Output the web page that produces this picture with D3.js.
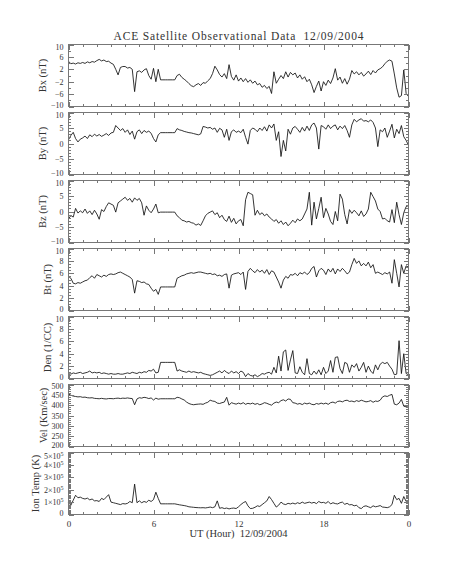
<!DOCTYPE html>
<html>
<head>
<meta charset="utf-8">
<script src="https://cdn.jsdelivr.net/npm/d3@7"></script>
<style>
body{margin:0;background:#fff;}
svg text{font-family:"Liberation Serif","DejaVu Serif",serif;fill:#333;white-space:pre;}
</style>
</head>
<body>
<svg id="chart" width="453" height="566"></svg>
<script>
// ---- data: 10-minute samples, 00:00 -> 24:00 UT ----
var title = "ACE Satellite Observational Data  12/09/2004";
var xTitle = "UT (Hour)  12/09/2004";
var stepHours = 1/6;
var hourTicks = [0, 6, 12, 18, 24];
var hourLabels = ["0", "6", "12", "18", "0"];

var bx = [
  4.6,3.8,4.0,3.7,4.1,3.9,  4.2,3.9,4.4,4.1,4.5,4.3,  4.8,5.2,4.7,5.0,4.5,4.6,
  4.0,3.6,2.0,0.2,2.6,2.9,  2.9,2.4,2.6,2.0,-5.2,1.2,  1.5,1.0,1.8,2.2,0.0,-1.2,
  2.3,-2.0,2.0,-1.4,-1.4,-1.4,  -1.4,-1.4,-1.4,-1.4,0.0,0.4,  -0.6,-1.2,-1.8,-2.6,-3.3,-3.6,
  -3.0,-2.6,-3.2,-2.3,-2.5,-1.7,  -1.0,0.6,3.0,1.8,0.3,-0.5,  0.6,-1.0,3.5,-0.3,-1.5,0.2,
  -1.8,-0.8,-2.0,-1.0,-2.2,-1.4,  -2.5,-1.8,-3.0,-2.6,-3.8,-3.2,  -4.2,-3.5,-5.8,1.2,-2.5,-1.2,
  0.0,-1.0,1.2,-0.5,1.0,0.2,  0.8,-0.8,0.2,-1.2,-0.4,-2.0,  -1.2,-3.0,-5.5,-3.5,-1.8,-5.0,
  -2.0,-3.2,-1.5,-2.6,-0.8,2.2,  -1.5,-0.5,-2.5,-1.0,-2.8,-1.2,  1.6,0.5,1.2,0.2,1.0,-0.2,
  0.5,1.4,0.3,1.6,0.8,1.8,  2.2,2.8,3.8,4.6,5.0,4.6,  0.5,-4.0,-7.0,-6.5,1.8,-5.8,
  -6.8];

var by = [
  1.2,2.6,3.6,1.6,0.5,1.4,  1.8,2.4,1.6,2.8,2.2,3.0,  2.4,2.9,2.3,2.7,3.2,2.6,
  3.4,3.6,5.8,5.0,4.2,4.8,  3.6,4.4,2.9,4.0,1.4,3.8,  4.4,3.2,4.2,3.6,4.0,3.3,
  1.6,0.5,2.8,3.5,3.5,3.5,  3.5,3.5,3.5,3.5,4.8,4.4,  4.2,3.9,3.7,3.5,3.4,3.2,
  3.0,2.8,3.1,5.5,5.3,5.0,  5.2,4.6,5.0,3.6,4.9,4.4,  2.0,4.6,1.0,3.8,4.4,3.6,
  4.0,3.5,4.6,2.0,-0.2,4.2,  5.0,4.6,3.8,5.0,4.2,5.4,  4.0,6.0,5.0,6.3,1.0,3.8,
  -4.2,1.0,-2.4,4.6,3.0,5.0,  5.5,4.6,3.6,5.2,4.0,5.6,  4.2,6.0,6.6,5.0,-1.8,5.8,
  5.4,4.6,6.0,4.8,5.6,6.0,  4.4,5.6,4.8,5.8,4.2,2.0,  6.0,7.8,7.0,7.6,8.0,7.2,
  7.4,7.0,7.6,6.8,5.0,-1.0,  4.4,3.8,5.0,2.0,4.0,6.2,  1.8,4.6,3.2,5.8,2.2,1.0,
  -0.6];

var bz = [
  -2.4,-1.3,-1.8,1.0,-0.5,0.2,  -0.4,0.8,-0.6,0.2,-1.0,0.4,  -0.8,-2.5,0.6,0.0,1.6,2.8,
  2.4,2.0,-0.2,2.8,3.4,4.0,  4.6,3.6,4.2,3.0,4.4,3.6,  4.2,2.8,-1.2,1.8,0.4,-0.4,
  0.8,2.4,-0.4,-0.2,-0.2,-0.2,  -0.2,-0.2,-0.2,-0.2,-1.4,-2.0,  -2.8,-3.0,-3.4,-3.2,-3.6,-3.8,
  -4.4,-4.0,-4.5,-3.0,-1.4,-0.6,  -0.2,0.2,-1.0,-0.4,-2.0,-1.2,  -2.6,-3.2,-1.5,-3.5,-2.2,-4.0,
  -3.0,-2.6,-4.6,3.8,6.2,5.8,  5.4,-1.2,0.4,-1.0,-0.4,-1.4,  -0.8,-1.8,-2.4,-3.2,-2.6,-3.8,
  -3.0,-4.2,-3.4,-4.6,-3.8,-2.8,  -3.6,-2.4,-3.0,-2.4,-0.8,0.8,  6.2,-4.4,3.0,-2.4,1.0,4.6,
  -2.0,1.0,-0.8,-3.2,-4.2,0.0,  -3.0,5.6,4.0,-1.0,-4.0,0.6,  -0.6,0.4,-0.4,-1.4,0.2,-1.6,
  -0.8,0.8,6.2,4.8,3.4,0.8,  0.0,-2.4,-2.2,-3.0,-3.4,0.6,  -3.6,3.0,-1.0,-4.2,-0.4,1.6,
  1.9];

var bt = [
  5.5,5.2,4.4,4.3,4.5,4.4,  4.6,4.8,4.9,5.3,5.6,5.2,  5.8,5.6,5.4,5.7,5.5,5.8,
  5.9,5.8,5.9,6.1,6.2,6.0,  5.8,5.6,5.4,5.0,2.8,4.8,  4.7,4.5,4.6,4.3,4.2,3.6,
  3.1,3.4,2.6,3.8,3.8,3.8,  3.8,3.8,3.8,3.8,5.2,5.4,  5.6,5.7,5.9,6.0,6.1,6.0,
  6.1,6.2,6.2,6.1,6.0,5.9,  6.0,5.8,5.9,5.6,5.7,5.5,  5.8,5.9,3.6,5.7,5.9,6.0,
  6.1,5.8,6.2,3.4,6.3,6.8,  6.4,6.1,6.6,6.2,6.5,6.0,  6.6,5.8,6.4,6.2,5.4,4.6,
  3.6,4.9,5.5,5.2,5.8,5.7,  6.0,5.6,6.1,5.9,6.2,5.8,  6.1,6.8,7.1,5.4,6.4,6.8,
  6.5,5.8,6.7,6.2,6.8,5.9,  6.7,6.3,6.8,6.4,5.9,6.2,  7.4,8.4,7.6,8.0,7.2,7.6,
  7.2,7.8,6.9,7.4,6.0,6.2,  6.0,5.8,6.1,5.9,6.2,4.4,  8.2,6.0,3.8,7.4,6.0,7.2,
  7.0];

var den = [
  1.0,0.7,0.9,0.8,0.9,1.0,  0.8,0.9,1.0,1.2,0.9,1.0,  0.9,1.0,0.8,0.9,0.8,0.7,
  0.8,0.7,0.7,0.8,0.7,0.7,  0.8,0.9,0.8,1.0,0.9,0.8,  1.0,0.9,1.1,1.0,1.3,1.2,
  1.5,0.9,1.0,2.6,2.6,2.6,  2.6,2.6,2.6,2.6,1.2,1.4,  1.2,1.1,1.0,1.2,1.0,1.1,
  1.0,0.9,1.0,0.8,0.7,0.6,  0.5,0.6,0.8,1.0,1.2,0.9,  1.3,1.0,0.8,1.2,0.9,1.1,
  0.8,1.2,1.0,0.3,0.8,0.5,  0.4,0.6,0.3,0.5,0.8,0.7,  0.9,1.0,0.7,1.8,0.9,3.6,
  1.2,4.3,4.6,1.3,3.0,4.5,  0.9,0.8,1.9,1.0,0.6,3.2,  0.8,0.6,1.2,0.7,1.4,0.6,
  1.8,0.8,1.2,2.9,1.0,3.4,  3.5,1.6,0.8,2.6,2.4,1.0,  2.2,1.8,2.4,1.2,1.8,2.6,
  1.0,2.0,1.2,0.8,2.2,1.4,  2.3,2.6,2.4,2.6,2.0,1.5,  0.6,0.7,6.1,0.8,4.0,0.8,
  0.6];

var vel = [
  454,448,444,442,440,441,  438,439,436,435,436,433,  432,431,433,431,430,432,
  432,431,433,434,432,434,  433,435,433,432,402,430,  436,434,438,436,432,435,
  425,434,429,431,431,431,  431,431,431,431,438,436,  430,425,415,408,404,402,
  404,405,406,404,410,414,  424,420,418,410,408,412,  415,438,400,412,408,405,
  410,406,412,404,409,406,  410,404,408,402,406,412,  409,404,400,410,415,412,
  422,426,420,430,428,412,  410,405,408,403,410,406,  410,404,402,408,405,410,
  406,410,404,412,415,410,  418,420,416,422,424,418,  420,416,422,418,424,420,
  416,418,422,414,420,418,  424,440,445,442,448,452,  405,402,410,428,395,392,
  398];

// ion temperature in units of 10^5 K
var tempUnit = 1e5;
var temp = [
  0.95,0.75,1.15,1.55,1.35,1.40,  1.30,1.25,1.32,1.18,1.25,1.10,  1.12,1.05,1.30,1.20,1.40,1.60,
  1.00,0.95,0.90,0.85,0.80,0.88,  0.85,0.90,1.05,0.95,2.45,0.95,  1.10,0.95,1.05,0.98,1.15,1.05,
  1.20,1.80,1.30,0.86,0.86,0.86,  0.86,0.86,0.86,0.86,0.82,0.78,  0.75,0.72,0.68,0.62,0.60,0.58,
  0.56,0.55,0.54,0.55,0.53,0.56,  0.60,0.55,0.62,1.10,0.50,0.55,  0.48,0.52,0.45,0.50,0.52,0.48,
  0.62,0.80,0.95,1.05,0.70,0.48,  0.50,0.58,0.70,0.65,0.80,0.95,  1.10,1.45,1.20,0.90,0.60,0.75,
  1.00,0.85,0.80,0.90,0.85,0.92,  0.85,0.95,0.88,1.00,0.90,0.95,  1.00,0.92,0.98,0.88,1.05,0.95,
  0.98,0.90,1.05,0.85,0.95,0.88,  0.85,0.95,1.00,0.82,0.90,0.78,  0.80,0.70,0.75,0.55,0.48,0.65,
  0.70,0.62,0.55,0.70,0.62,0.66,  0.72,0.60,0.58,0.55,0.62,0.80,  1.55,1.20,1.30,0.90,1.45,1.05,
  1.10];

/***********************************************************************************************************/
// shift: how far the top / bottom tick labels are pulled inside the box, so neighbours don't collide

var panels = [
  {label: "Bx (nT)",      values: bx,   domain: [-10, 10],  major: d3.range(-10, 11, 4), minor: d3.range(-10, 11, 2), shift: [2, 2]},
  {label: "By (nT)",      values: by,   domain: [-10, 10],  major: d3.range(-10, 11, 5), minor: d3.range(-10, 11, 1), shift: [2, 2]},
  {label: "Bz (nT)",      values: bz,   domain: [-10, 10],  major: d3.range(-10, 11, 5), minor: d3.range(-10, 11, 1), shift: [2, 2]},
  {label: "Bt (nT)",      values: bt,   domain: [0, 10],    major: d3.range(0, 11, 2),   minor: d3.range(0, 10.01, 0.5), shift: [2, 2]},
  {label: "Den (1/CC)",   values: den,  domain: [0, 10],    major: d3.range(0, 11, 2),   minor: d3.range(0, 10.01, 0.5), shift: [2, 2]},
  {label: "Vel (Km/sec)", values: vel,  domain: [200, 500], major: d3.range(200, 501, 50), minor: d3.range(200, 501, 10), shift: [1.2, 1.2]},
  {label: "Ion Temp (K)", values: temp, domain: [0, 5],     major: d3.range(0, 6, 1),    minor: d3.range(0, 5.001, 0.1), shift: [3.5, 2], sci: true}
];

var svg = d3.select("#chart");
svg.left = 68.5;
svg.right = 408.5;
svg.top = 44.5;
svg.panelH = 62;
svg.pitch = 68;
svg.majorTick = 5;
svg.minorTick = 2.5;

var x = d3.scaleLinear().domain([0, 24]).range([svg.left, svg.right]);
var hours = d3.range(0, 25, 1);

svg.append("text")
  .attr("x", (svg.left + svg.right) / 2)
  .attr("y", 40)
  .attr("text-anchor", "middle")
  .attr("font-size", 11.5)
  .attr("textLength", 250)
  .attr("lengthAdjust", "spacing")
  .text(title);

function tickAxis(g, axis, values, size){
  g.call(axis.tickValues(values).tickSize(-size).tickFormat(""));
  g.select(".domain").remove();
  g.attr("color", "#777");
}

panels.forEach(function(p, i){
  var y0 = svg.top + i * svg.pitch;
  var y1 = y0 + svg.panelH;
  var y = d3.scaleLinear().domain(p.domain).range([y1, y0]);
  var g = svg.append("g");

  // data trace
  var line = d3.line()
    .x(function(d, j){ return x(j * stepHours); })
    .y(function(d){ return y(d); });
  g.append("path")
    .datum(p.values)
    .attr("d", line)
    .attr("fill", "none")
    .attr("stroke", "#111")
    .attr("stroke-width", 0.85)
    .attr("stroke-linejoin", "round");

  // box
  g.append("rect")
    .attr("x", svg.left).attr("y", y0)
    .attr("width", svg.right - svg.left).attr("height", svg.panelH)
    .attr("fill", "none").attr("stroke", "#777").attr("shape-rendering", "crispEdges");

  // x ticks top and bottom, inward
  tickAxis(g.append("g").attr("transform", "translate(0," + y0 + ")").attr("shape-rendering", "crispEdges"), d3.axisTop(x), hours, svg.minorTick);
  tickAxis(g.append("g").attr("transform", "translate(0," + y0 + ")").attr("shape-rendering", "crispEdges"), d3.axisTop(x), hourTicks, svg.majorTick);
  tickAxis(g.append("g").attr("transform", "translate(0," + y1 + ")").attr("shape-rendering", "crispEdges"), d3.axisBottom(x), hours, svg.minorTick);
  tickAxis(g.append("g").attr("transform", "translate(0," + y1 + ")").attr("shape-rendering", "crispEdges"), d3.axisBottom(x), hourTicks, svg.majorTick);

  // y ticks left and right, inward
  tickAxis(g.append("g").attr("transform", "translate(" + svg.left + ",0)").attr("shape-rendering", "crispEdges"), d3.axisLeft(y), p.minor, svg.minorTick);
  tickAxis(g.append("g").attr("transform", "translate(" + svg.right + ",0)").attr("shape-rendering", "crispEdges"), d3.axisRight(y), p.minor, svg.minorTick);
  tickAxis(g.append("g").attr("transform", "translate(" + svg.right + ",0)").attr("shape-rendering", "crispEdges"), d3.axisRight(y), p.major, svg.majorTick);

  var ya = g.append("g").attr("transform", "translate(" + svg.left + ",0)").attr("shape-rendering", "crispEdges");
  ya.call(d3.axisLeft(y).tickValues(p.major).tickSize(-svg.majorTick).tickPadding(5).tickFormat(function(d){ return String(d).replace("-", "\u2212"); }));
  ya.select(".domain").remove();
  ya.attr("color", "#777").attr("font-size", 8).attr("font-family", null);

  if (p.sci) {
    ya.selectAll(".tick text").each(function(d){
      if (d === 0) return;
      var t = d3.select(this).text(null);
      t.append("tspan").text(d + "\u00d710");
      t.append("tspan").attr("dy", "-0.45em").attr("font-size", 6).text(Math.log10(tempUnit));
    });
  }

  ya.selectAll(".tick text").attr("transform", function(d){
    if (d === p.domain[1]) return "translate(0," + p.shift[0] + ")";
    if (d === p.domain[0]) return "translate(0," + (-p.shift[1]) + ")";
    return null;
  });

  // y title, left of the widest label
  var bb = ya.node().getBBox();
  svg.append("text")
    .attr("transform", "translate(" + (svg.left + bb.x - 5) + "," + (y0 + svg.panelH / 2) + ") rotate(-90)")
    .attr("text-anchor", "middle")
    .attr("font-size", 10.5)
    .text(p.label);

  // hour labels under the last panel
  if (i === panels.length - 1) {
    var xa = svg.append("g").attr("transform", "translate(0," + y1 + ")");
    xa.call(d3.axisBottom(x).tickValues(hourTicks).tickSize(0).tickPadding(6).tickFormat(function(d, k){ return hourLabels[k]; }));
    xa.select(".domain").remove();
    xa.attr("font-size", 9).attr("font-family", null);
    svg.append("text")
      .attr("x", (svg.left + svg.right) / 2)
      .attr("y", y1 + 22)
      .attr("text-anchor", "middle")
      .attr("font-size", 10.5)
      .text(xTitle);
  }
});
</script>
</body>
</html>
